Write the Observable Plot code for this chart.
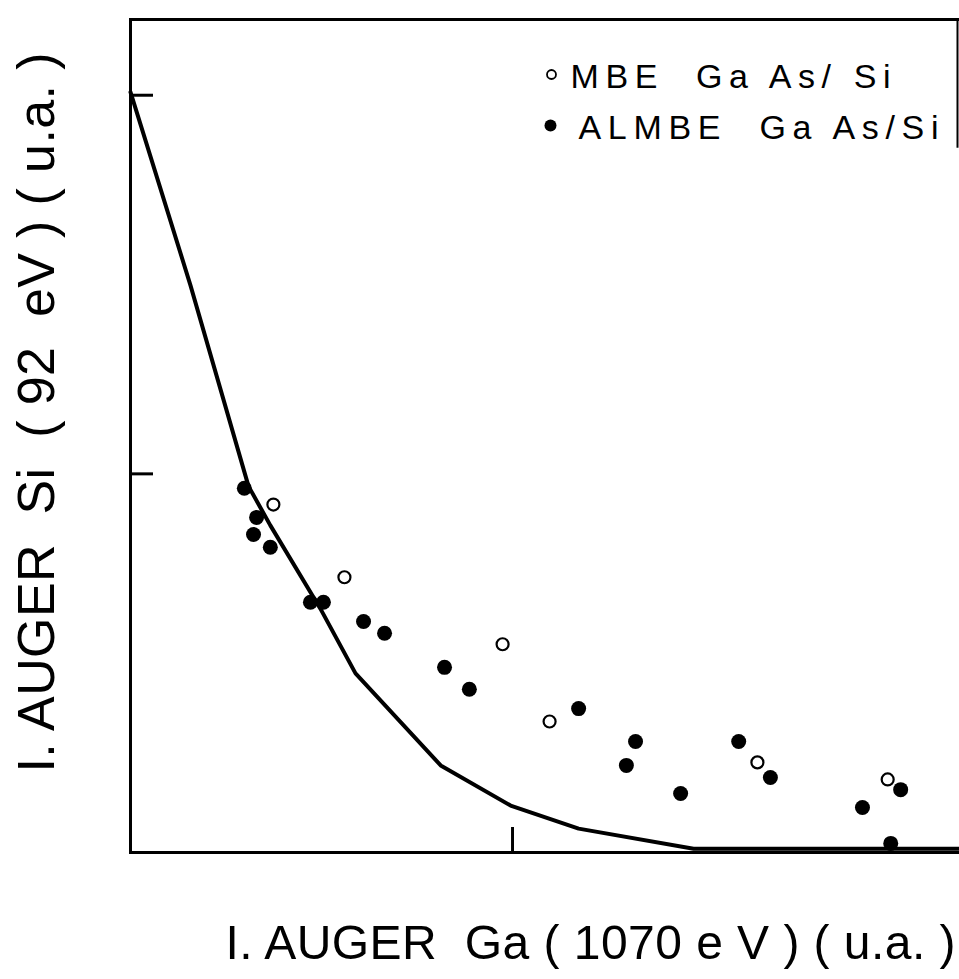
<!DOCTYPE html>
<html>
<head>
<meta charset="utf-8">
<script src="https://cdn.jsdelivr.net/npm/d3@7"></script>
<script src="https://cdn.jsdelivr.net/npm/@observablehq/plot@0.6"></script>
<style>
  html, body { margin: 0; padding: 0; background: #fff; }
  svg { display: block; }
</style>
</head>
<body>
<div id="chart"></div>
<script>
// Curve (theoretical) — x: I Auger Ga, y: I Auger Si (u.a.)
const curveX = [0, 0.157, 0.309, 0.366, 0.497, 0.589, 0.812, 0.995, 1.173, 1.474, 2.17];
const curveY = [2.008, 1.498, 0.967, 0.864, 0.644, 0.473, 0.230, 0.124, 0.063, 0.010, 0.010];

// ALMBE GaAs/Si (filled dots)
const almbeX = [0.298, 0.330, 0.322, 0.366, 0.471, 0.505, 0.610, 0.665, 0.822, 0.887, 1.173, 1.322, 1.298, 1.440, 1.592, 1.675, 1.916, 2.016, 1.990];
const almbeY = [0.962, 0.885, 0.840, 0.806, 0.661, 0.661, 0.610, 0.579, 0.489, 0.431, 0.380, 0.293, 0.230, 0.156, 0.293, 0.198, 0.119, 0.166, 0.024];

// MBE GaAs/Si (open circles)
const mbeX = [0.374, 0.560, 0.974, 1.097, 1.641, 1.982];
const mbeY = [0.919, 0.727, 0.550, 0.346, 0.238, 0.193];

const legendLabels = ["MBE  Ga As/ Si", "ALMBE  Ga As/Si"];
const xLabel = "I. AUGER  Ga ( 1070 e V ) ( u.a. )";
const yLabel = "I. AUGER  Si  ( 92  eV ) ( u.a. )";
const yTicks = [1, 2];
const xTicks = [1];
const xMax = 2.17, yMax = 2.2;

const curve = curveX.map((x, i) => ({x, y: curveY[i]}));
const almbe = almbeX.map((x, i) => ({x, y: almbeY[i]}));
const mbe = mbeX.map((x, i) => ({x, y: mbeY[i]}));

const font = "'Liberation Sans', 'DejaVu Sans', sans-serif";

const chart = Plot.plot({
  width: 959,
  height: 979,
  marginLeft: 130,
  marginRight: 0,
  marginTop: 19,
  marginBottom: 127,
  style: {fontFamily: font, background: "#fff", color: "#000"},
  x: {domain: [0, xMax]},
  y: {domain: [0, yMax]},
  marks: [
    Plot.frame({anchor: "left", strokeWidth: 3}),
    Plot.frame({anchor: "bottom", strokeWidth: 3}),
    Plot.frame({anchor: "top", strokeWidth: 3}),
    Plot.ruleX([xMax], {y1: yMax, y2: 1.86, strokeWidth: 2, dx: -2}),
    Plot.axisY({ticks: yTicks, tickSize: -23, tickFormat: () => "", label: null, strokeWidth: 3}),
    Plot.axisX({ticks: xTicks, tickSize: -25, tickFormat: () => "", label: null, strokeWidth: 3}),
    Plot.line(curve, {x: "x", y: "y", stroke: "#000", strokeWidth: 4, strokeLinejoin: "round"}),
    Plot.dot(almbe, {x: "x", y: "y", r: 7.5, fill: "#000", stroke: "none"}),
    Plot.dot(mbe, {x: "x", y: "y", r: 6, fill: "#fff", stroke: "#000", strokeWidth: 2.2}),
    // legend
    Plot.dot([legendLabels[0]], {frameAnchor: "top-left", dx: 421, dy: 55, r: 4.5, fill: "#fff", stroke: "#000", strokeWidth: 1.8}),
    Plot.dot([legendLabels[1]], {frameAnchor: "top-left", dx: 420, dy: 106, r: 6, fill: "#000", stroke: "none"}),
    Plot.text([legendLabels[0]], {text: d => d, frameAnchor: "top-left", dx: 440, dy: 44, textAnchor: "start", fontSize: 34, fill: "#000", className: "leg0"}),
    Plot.text([legendLabels[1]], {text: d => d, frameAnchor: "top-left", dx: 448, dy: 95, textAnchor: "start", fontSize: 34, fill: "#000", className: "leg1"}),
    // axis labels
    Plot.text([xLabel], {text: d => d, frameAnchor: "bottom-left", dx: 95, dy: 106, textAnchor: "start", fontSize: 57, fill: "#000", className: "xlab"}),
    Plot.text([yLabel], {text: d => d, frameAnchor: "bottom-left", dx: -77, dy: -80, textAnchor: "start", rotate: -90, fontSize: 52, fill: "#000", className: "ylab"})
  ]
});

document.getElementById("chart").appendChild(chart);

// fit each label to the length it has in the reference, by letter spacing
function fit(cls, target) {
  d3.select(chart).selectAll("." + cls + " text").each(function() {
    const n = this.getComputedTextLength();
    if (n > target) {
      const fs = parseFloat(getComputedStyle(this).fontSize);
      this.style.fontSize = (fs * target / n * 0.98) + "px";
    }
    this.setAttribute("textLength", target);
    this.setAttribute("lengthAdjust", "spacing");
  });
}
fit("xlab", 730);
fit("ylab", 720);
fit("leg0", 320);
fit("leg1", 360);
</script>
</body>
</html>
